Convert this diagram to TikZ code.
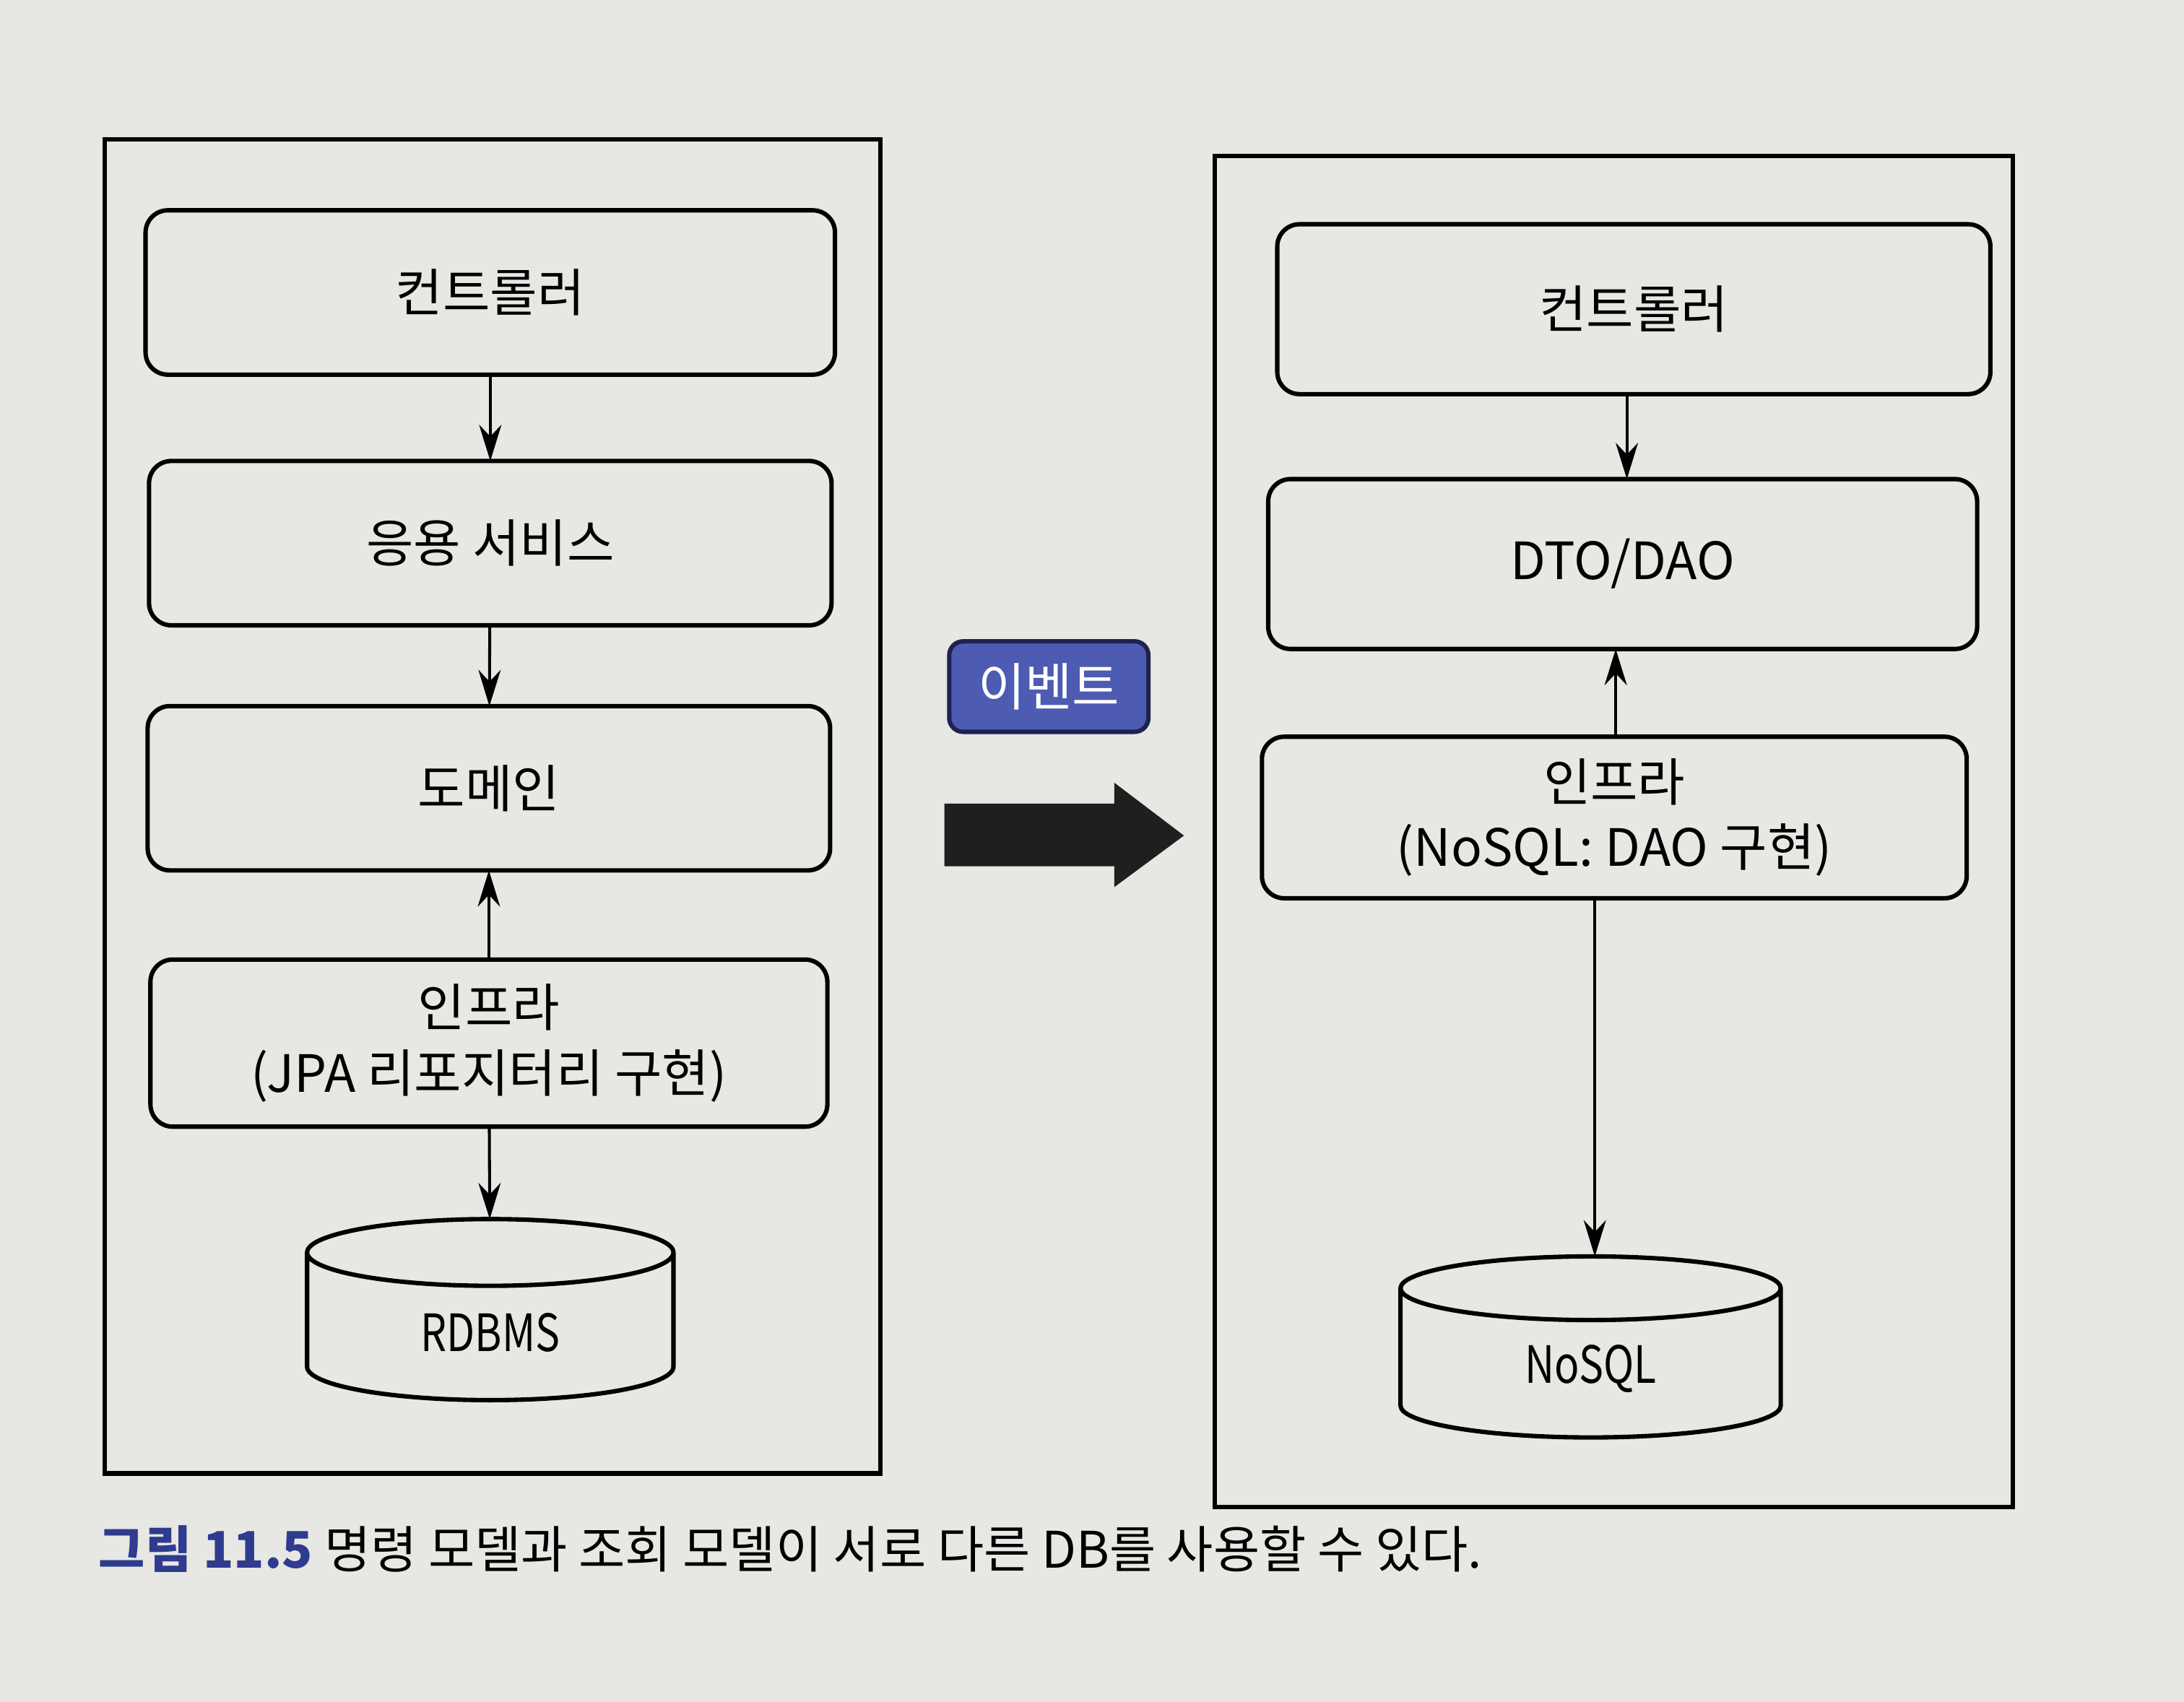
\documentclass[tikz,border=0pt]{standalone}
\usepackage{fontspec}
\setmainfont{Noto Sans CJK KR}
\newfontfamily\dbfont[FakeStretch=0.8]{Noto Sans CJK KR}
\usetikzlibrary{arrows.meta,shapes.geometric}

\definecolor{paper}{HTML}{E7E7E3}
\definecolor{evblue}{HTML}{4D5BB3}
\definecolor{evline}{HTML}{1F2250}
\definecolor{capblue}{HTML}{2E3B8F}

\begin{document}
\begin{tikzpicture}[x=0.1mm,y=-0.1mm,inner sep=2pt,outer sep=0pt,line width=0.9pt,
	layer/.style={draw,rounded corners=1.6mm,minimum width=49mm,minimum height=11.8mm,
		align=center,font=\fontsize{10.5}{13.4}\selectfont},
	db/.style={draw,cylinder,shape border rotate=90,aspect=0.42,
		minimum width=26.3mm,minimum height=13mm,font=\dbfont\fontsize{10.5}{12}\selectfont}]
	\fill[paper] (0,0) rectangle (1568,1222);
	\useasboundingbox (0,0) rectangle (1568,1222);
	% command side
	\draw (75,100) rectangle (632,1058);
	\node[layer,minimum width=49.5mm] (lc) at (352,210) {컨트롤러};
	\node[layer] (ls) at (352,390) {응용 서비스};
	\node[layer] (ld) at (351,566) {도메인};
	\node[layer,minimum width=48.6mm,minimum height=12mm] (li) at (351,749) {인프라\\(JPA 리포지터리 구현)};
	\node[db] (ldb) at (352,957) {RDBMS};
	% query side
	\draw (872,112) rectangle (1445,1082);
	\node[layer,minimum width=51.2mm,minimum height=12.2mm] (rc) at (1173,222) {컨트롤러};
	\node[layer,minimum width=50.9mm,minimum height=12.2mm] (rd) at (1165,405) {DTO/DAO};
	\node[layer,minimum width=50.6mm,minimum height=11.6mm] (ri) at (1159,587) {인프라\\(NoSQL: DAO 구현)};
	\node[db,minimum width=27.3mm] (rdb) at (1142,983) {NoSQL};
	% event
	\node[draw=evline,fill=evblue,text=white,rounded corners=1mm,minimum width=14.3mm,
		minimum height=6.5mm,font=\fontsize{10.5}{12}\selectfont] (ev) at (753,493) {이벤트};
	\fill[black!88] (678,577) -- (800,577) -- (800,562) -- (850,600)
		-- (800,637) -- (800,622) -- (678,622) -- cycle;
	\begin{scope}[-{Stealth[length=2.6mm,width=1.6mm]},line width=0.6pt]
	\draw (lc) -- (ls);
	\draw (ls) -- (ld);
	\draw (li) -- (ld);
	\draw (li) -- (ldb);
	\draw (rc.south -| 1168,0) -- (rd.north -| 1168,0);
	\draw (ri.north -| 1160,0) -- (rd.south -| 1160,0);
	\draw (ri.south -| 1145,0) -- (rdb.north -| 1145,0);
	\end{scope}
	% caption
	\node[anchor=west,font=\fontsize{10.3}{12}\selectfont] (cap) at (64,1112)
		{\textcolor{capblue}{\bfseries 그림 11.5} 명령 모델과 조회 모델이 서로 다른 DB를 사용할 수 있다.};
\end{tikzpicture}
\end{document}
